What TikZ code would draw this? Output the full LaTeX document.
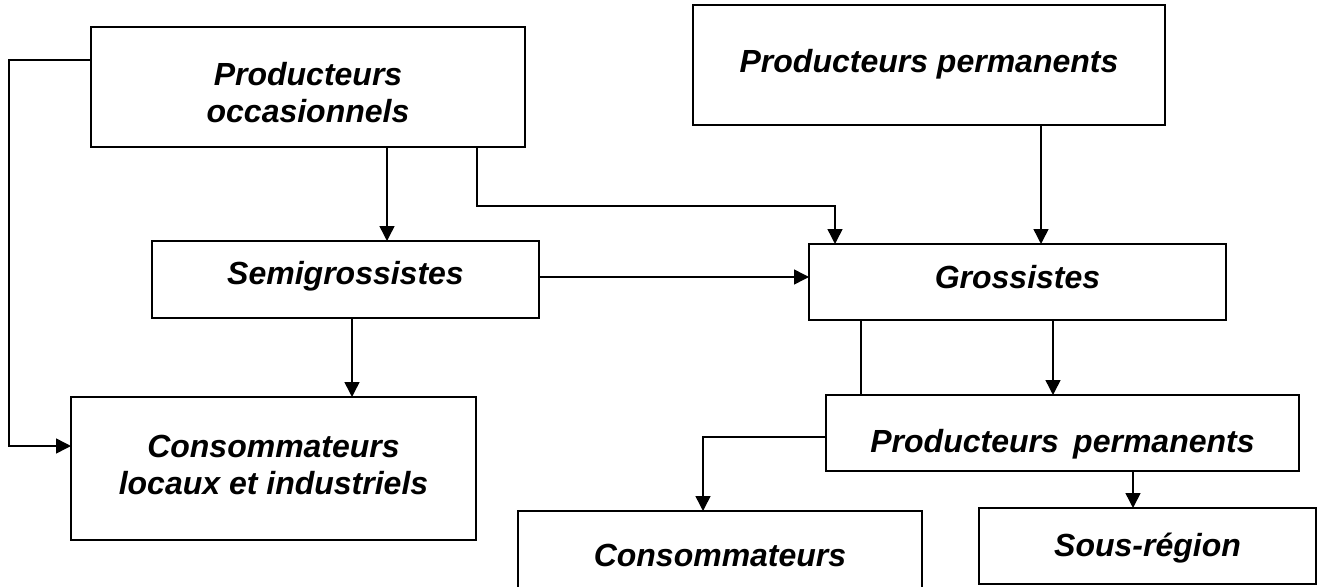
\documentclass[tikz,border=0pt]{standalone}
\usepackage{fontspec}
\setmainfont{Liberation Sans}
\usetikzlibrary{arrows.meta}
\begin{document}
\begin{tikzpicture}[x=1pt,y=-1pt,
  box/.style={draw=black,line width=2.2pt,fill=none,inner sep=0pt,outer sep=0pt,rectangle},
  lbl/.style={anchor=base,inner sep=0pt,font=\fontsize{32}{38}\selectfont\bfseries\itshape},
  conn/.style={draw=black,line width=1.5pt},
  arr/.style={conn,-{Triangle[length=15pt,width=15pt]}}]
\useasboundingbox (0,0) rectangle (1327,586);

% boxes
\node[box,minimum width=434pt,minimum height=120pt] (po)    at (308,87) {};
\node[box,minimum width=472pt,minimum height=120pt] (pp)    at (929,65) {};
\node[box,minimum width=387pt,minimum height=77pt]  (semi)  at (345.5,279.5) {};
\node[box,minimum width=417pt,minimum height=76pt]  (gross) at (1017.5,282) {};
\node[box,minimum width=405pt,minimum height=143pt] (cl)    at (273.5,468.5) {};
\node[box,minimum width=473pt,minimum height=76pt]  (pp2)   at (1062.5,433) {};
\node[box,minimum width=404pt,minimum height=89pt]  (conso) at (720,555.5) {};
\node[box,minimum width=337pt,minimum height=76pt]  (sous)  at (1147.5,546) {};

% labels
\node[lbl] (po1)   at (308,85)  {Producteurs};
\node[lbl] (po2)   at (308,122) {occasionnels};
\node[lbl] (ppt)   at (929,72)  {Producteurs permanents};
\node[lbl] (semit) at (345.5,284) {Semigrossistes};
\node[lbl] (grt)   at (1017.5,288) {Grossistes};
\node[lbl] (cl1)   at (273.5,457) {Consommateurs};
\node[lbl] (cl2)   at (273.5,494) {locaux et industriels};
\node[lbl] (pp2t)  at (1062.5,452) {Producteurs\hspace{0.45em}permanents};
\node[lbl] (cot)   at (720,566) {Consommateurs};
\node[lbl] (sot)   at (1147.5,556) {Sous-région};

% connectors
\draw[arr] (po.west |- 0,60) -- (9,60) -- (9,446) -- (cl.west |- 0,446);
\draw[arr] (po.south -| 387,0) -- (semi.north -| 387,0);
\draw[arr] (po.south -| 477,0) -- (477,206) -- (835,206) -- (gross.north -| 835,0);
\draw[arr] (semi.east |- 0,277) -- (gross.west |- 0,277);
\draw[arr] (pp.south -| 1041,0) -- (gross.north -| 1041,0);
\draw[arr] (semi.south -| 352,0) -- (cl.north -| 352,0);
\draw[conn] (gross.south -| 861,0) -- (pp2.north -| 861,0);
\draw[arr] (gross.south -| 1053,0) -- (pp2.north -| 1053,0);
\draw[arr] (pp2.west |- 0,437) -| (conso.north -| 703,0);
\draw[arr] (pp2.south -| 1133,0) -- (sous.north -| 1133,0);
\end{tikzpicture}
\end{document}
